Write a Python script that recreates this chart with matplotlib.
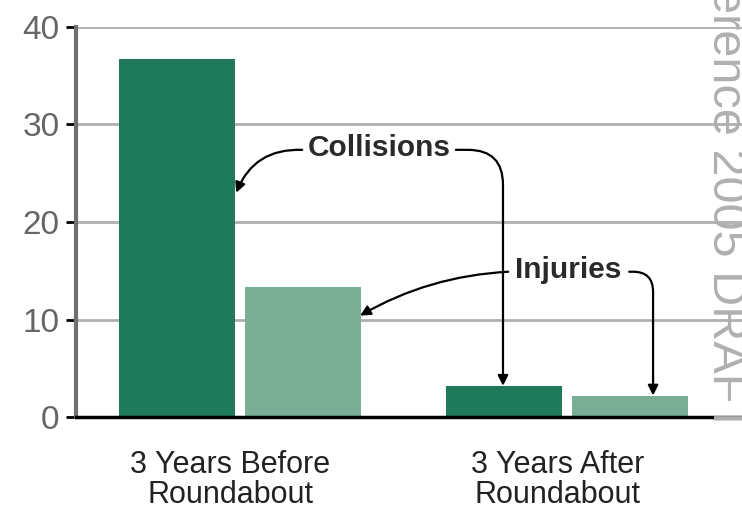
import numpy as np
import matplotlib
matplotlib.use("Agg")
import matplotlib.pyplot as plt

plt.rcParams['font.family'] = ['Liberation Sans', 'DejaVu Sans']

groups = ["3 Years Before\nRoundabout", "3 Years After\nRoundabout"]
collisions = [36.7, 3.2]
injuries = [13.3, 2.2]
yticks = [0, 10, 20, 30, 40]

dark = "#1f7a5c"
light = "#7aae97"

fig = plt.figure(figsize=(7.42, 5.09), dpi=100)
ax = fig.add_axes([0.1024, 0.1807, 0.8976, 0.7663])

x = np.arange(len(groups))
off = 0.193
w = 0.355
ax.bar(x - off, collisions, w, color=dark, zorder=3)
ax.bar(x + off, injuries, w, color=light, zorder=3)

ax.set_xlim(-0.502, 1.535)
ax.set_ylim(0, 40)
ax.set_yticks(yticks)
ax.set_yticklabels([str(t) for t in yticks], fontsize=24, color="#666666")
ax.set_xticks(x - 0.03)
ax.set_xticklabels(groups, fontsize=22, color="#222222", linespacing=0.98)
ax.tick_params(axis='x', length=0, pad=24)
ax.tick_params(axis='y', length=7, width=2, color="black", pad=5)

ax.yaxis.grid(True, color="#b0b0b0", linewidth=2, zorder=0)
ax.set_axisbelow(True)
for s in ["top", "right"]:
    ax.spines[s].set_visible(False)
ax.spines["left"].set_color("#707070")
ax.spines["left"].set_linewidth(3)
ax.spines["bottom"].set_color("black")
ax.spines["bottom"].set_linewidth(2.5)
ax.spines["bottom"].set_zorder(5)

# watermark, cut off by the right and top edges as in the scan
fig.text(0.9475, 1.028, "erence 2005 DRAFT", rotation=-90, fontsize=35,
         color="#b0b0b0", ha="left", va="top", zorder=0)

# annotations
tc = "#2a2a2a"
ax.text(0.425, 27.6, "Collisions", fontsize=21.5, fontweight="bold", color=tc,
        ha="center", va="center", zorder=6)
ax.text(1.003, 15.1, "Injuries", fontsize=21.5, fontweight="bold", color=tc,
        ha="center", va="center", zorder=6)

ap = dict(arrowstyle="-|>,head_length=0.6,head_width=0.3", color="black",
          lw=1.6, shrinkA=0, shrinkB=0)
ax.annotate("", xy=(-0.012, 23.0), xytext=(0.19, 27.4),
            arrowprops=dict(ap, connectionstyle="arc3,rad=0.35"), zorder=6)
ax.annotate("", xy=(0.804, 3.2), xytext=(0.66, 27.4),
            arrowprops=dict(ap, connectionstyle="angle,angleA=0,angleB=90,rad=35"), zorder=6)
ax.annotate("", xy=(0.367, 10.4), xytext=(0.82, 14.9),
            arrowprops=dict(ap, connectionstyle="arc3,rad=0.12"), zorder=6)
ax.annotate("", xy=(1.263, 2.2), xytext=(1.19, 14.9),
            arrowprops=dict(ap, connectionstyle="angle,angleA=0,angleB=90,rad=20"), zorder=6)

fig.savefig("out.png", dpi=100)
